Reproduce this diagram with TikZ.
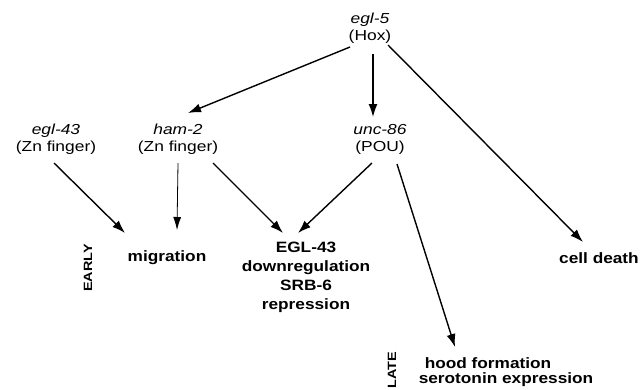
\documentclass[tikz,border=0pt]{standalone}
\usepackage{fontspec}
\setmainfont{Liberation Sans}[FakeStretch=1.2]
\newfontfamily\bfam{Liberation Sans}[FakeStretch=1.15]
\newfontfamily\phfam{Liberation Sans}[FakeStretch=1.2]
\usetikzlibrary{arrows.meta,calc}
\begin{document}
\begin{tikzpicture}[x=1pt,y=-1pt,
  gene/.style={inner sep=0pt,align=center,font=\fontsize{14.5}{17}\selectfont},
  outcome/.style={inner sep=0pt,align=center,font=\bfam\bfseries\fontsize{15}{19}\selectfont},
  phase/.style={inner sep=0pt,rotate=90,font=\phfam\bfseries\fontsize{12}{14}\selectfont},
  arr/.style={line width=1.4pt,-{Latex[length=13pt,width=9pt]}},
  thinarr/.style={line width=0.8pt,-{Latex[length=13pt,width=8pt]}}]
\useasboundingbox (0,0) rectangle (644,389);
\node[gene] (egl5) at (370,28) {\textit{egl-5}\\(Hox)};
\node[gene] (egl43) at (56,139) {\textit{egl-43}\\(Zn finger)};
\node[gene] (ham2) at (178,139) {\textit{ham-2}\\(Zn finger)};
\node[gene] (unc86) at (380,139) {\textit{unc-86}\\(POU)};
\node[outcome] (mig) at (167,258) {migration};
\node[outcome] (egl) at (306,277) {EGL-43\\downregulation\\SRB-6\\repression};
\node[outcome] (death) at (599,258) {cell death};
\node[outcome] (hood) at (488,363) {hood formation};
\node[outcome] (sero) at (506,380) {serotonin expression};
\node[phase] (early) at (88,268) {EARLY};
\node[phase] (late) at (392,370) {LATE};
\draw[arr] ($(egl5)+(-20,19)$) -- ($(ham2)+(10,-26)$);
\draw[arr] ($(egl5)+(3,26)$) -- ($(unc86)+(-7,-22)$);
\draw[arr] ($(egl5)+(18,17)$) -- ($(death)+(-16,-16)$);
\draw[arr] ($(egl43)+(-2,24)$) -- ($(mig)+(-42,-25)$);
\draw[thinarr] ($(ham2)+(0,24)$) -- ($(mig)+(10,-28)$);
\draw[arr] ($(ham2)+(35,24)$) -- ($(egl)+(-23,-44)$);
\draw[arr] ($(unc86)+(-8,24)$) -- ($(egl)+(-8,-44)$);
\draw[arr] ($(unc86)+(17,25)$) -- ($(hood)+(-33,-16)$);
\end{tikzpicture}
\end{document}
